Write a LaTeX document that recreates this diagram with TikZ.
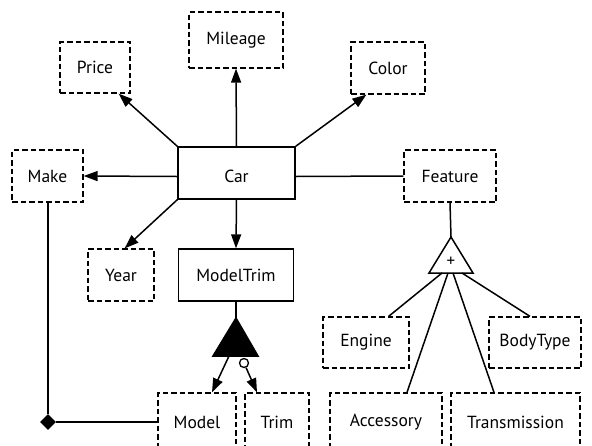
\documentclass[tikz,border=0pt]{standalone}
\usepackage{fontspec}
\setmainfont{PT Sans}
\usetikzlibrary{arrows.meta,calc,shapes.geometric}
\tikzset{
  box/.style={draw, line width=1.4pt, inner sep=0pt, font=\fontsize{17.5}{20}\selectfont},
  dbox/.style={box, line width=1.3pt, dash pattern=on 5.5pt off 3pt},
  link/.style={line width=1.5pt},
  arr/.style={link, -{Triangle[length=14pt,width=10pt]}},
}
\begin{document}
\begin{tikzpicture}[x=1pt,y=-1pt]
\useasboundingbox (0,0) rectangle (592,445);
\clip (0,0) rectangle (592,445);
% attribute boxes
\node[dbox, minimum width=70pt, minimum height=51pt] (price) at (95,67.5) {Price};
\node[dbox, minimum width=94pt, minimum height=56pt] (mileage) at (236,40) {Mileage};
\node[dbox, minimum width=74pt, minimum height=52pt] (color) at (388,68) {Color};
\node[dbox, minimum width=71pt, minimum height=52pt] (make) at (47.5,176) {Make};
\node[box, minimum width=117pt, minimum height=52pt] (car) at (236.5,173) {};
\node[font=\fontsize{17.5}{20}\selectfont, inner sep=0pt] (cartext) at (236.5,176) {Car};
\node[dbox, minimum width=92pt, minimum height=52pt] (feature) at (450,176) {Feature};
\node[dbox, minimum width=66pt, minimum height=52pt] (year) at (121,275) {Year};
\node[box, minimum width=115pt, minimum height=52pt] (mtrim) at (236,275) {ModelTrim};
\node[dbox, minimum width=86pt, minimum height=51pt] (engine) at (366,342.5) {Engine};
\node[dbox, minimum width=92pt, minimum height=51pt] (bodytype) at (535,342.5) {BodyType};
\node[dbox, minimum width=78pt, minimum height=58pt] (model) at (197,422) {Model};
\node[dbox, minimum width=64pt, minimum height=58pt] (trim) at (277,422) {Trim};
\node[dbox, minimum width=112pt, minimum height=58pt] (accessory) at (386,422) {Accessory};
\node[dbox, minimum width=129pt, minimum height=58pt] (transmission) at (515.5,422) {Transmission};

% associations out of Car
\draw[arr] (car.north west) -- ($(price.south east)+(-12,0)$);
\draw[arr] (car.north) -- (mileage.south);
\draw[arr] (car.north east) -- ($(color.south west)+(16,0)$);
\draw[arr] ($(car.west)+(0,3.5)$) -- (make.east |- cartext);
\draw[arr] (car.south west) -- ($(year.north east)+(-30,0)$);
\draw[arr] (car.south) -- (mtrim.north);
\draw[link] ($(car.east)+(0,3.5)$) -- (feature.west |- cartext);

% ModelTrim decomposition (filled triangle)
\coordinate (mtop) at (236,318);
\coordinate (mbl) at (213,356);
\coordinate (mbr) at (258,356);
\node[circle, draw, line width=1.3pt, fill=white, minimum size=9pt, inner sep=0pt] (opt) at (244,363) {};
\draw[link] (mtrim.south) -- (mtop);
\filldraw[link] (mtop) -- (mbl) -- (mbr) -- cycle;
\draw[arr] (229,356) -- ($(model.north)+(15,0)$);
\draw[arr] (opt) -- ($(trim.north)+(-20,0)$);

% Feature alternatives (triangle with plus)
\coordinate (ftop) at (451,237);
\coordinate (fbl) at (429,273);
\coordinate (fbr) at (473,273);
\draw[link] (feature.south) -- (ftop);
\draw[link, fill=white] (ftop) -- (fbl) -- (fbr) -- cycle;
\node[font=\fontsize{17}{20}\selectfont, inner sep=0pt] (plus) at (451,262) {+};
\draw[link] (442,273) -- ($(engine.north east)+(-21,0)$);
\draw[link] (448,273) -- ($(accessory.north)+(21,0)$);
\draw[link] (453,273) -- ($(transmission.north)+(-21.5,0)$);
\draw[link] (462,273) -- ($(bodytype.north)+(-5,0)$);

% Make aggregated into Model
\node[diamond, fill=black, minimum width=16pt, minimum height=16pt, inner sep=0pt] (agg) at (48,422) {};
\draw[link] (make.south -| agg) -- (agg.north);
\draw[link] (agg.east) -- (model.west |- agg);
\end{tikzpicture}
\end{document}
